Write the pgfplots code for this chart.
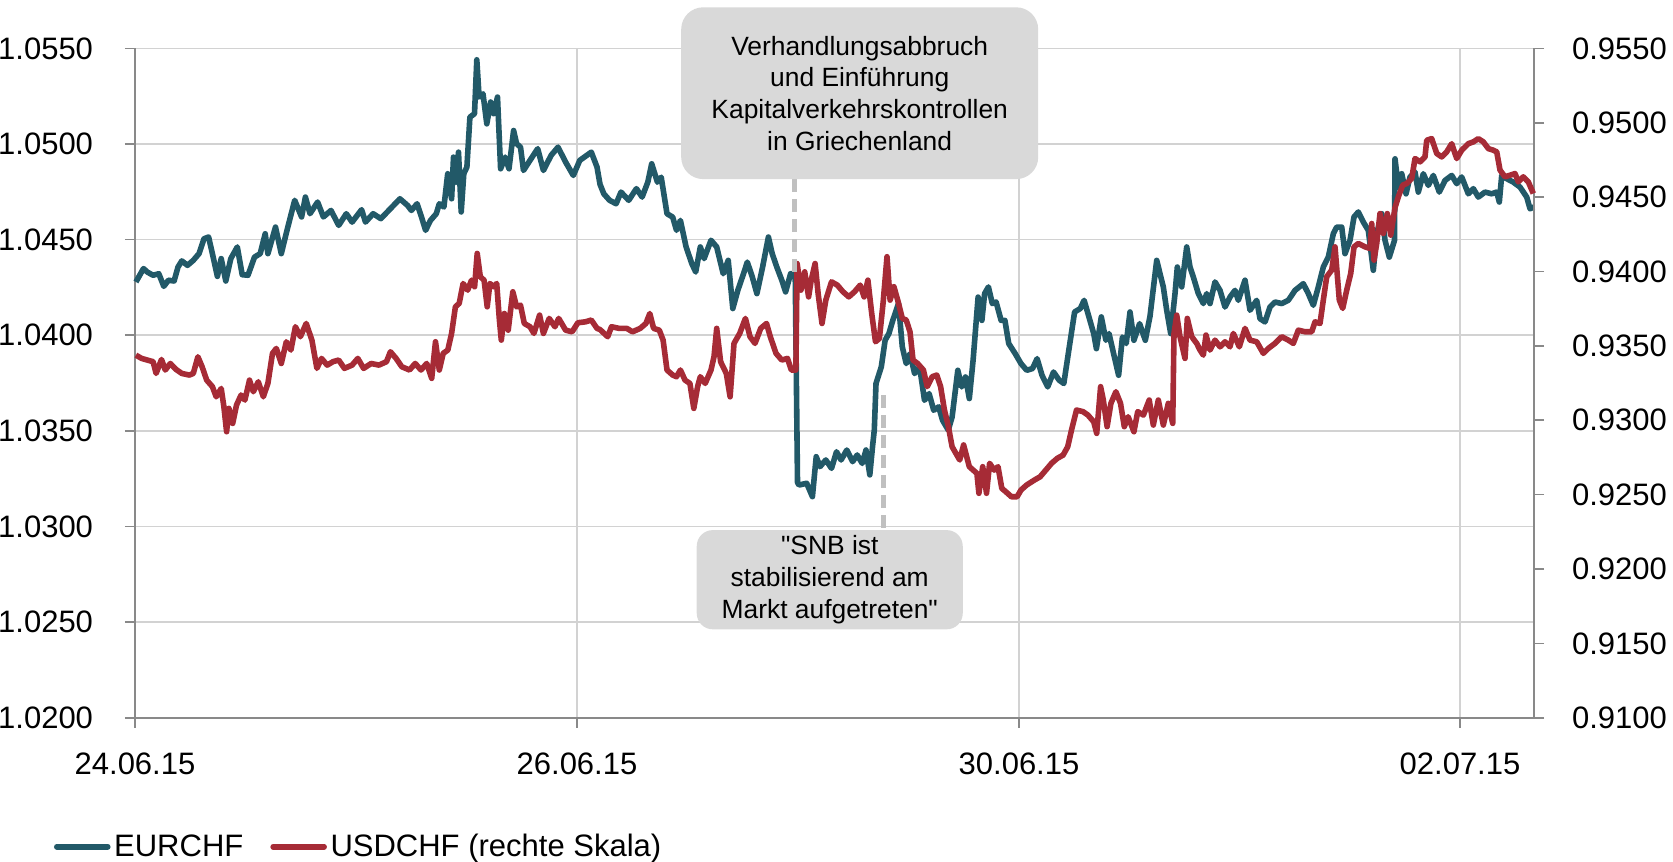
\documentclass[border=0pt]{standalone}
\usepackage{fontspec}
\setmainfont{Liberation Sans}[Ligatures=TeXOff]
\usepackage{pgfplots}
\usepackage{pgfplotstable}
\pgfplotsset{compat=1.18}
\definecolor{eur}{RGB}{34,89,104}
\definecolor{usd}{RGB}{166,43,54}
\definecolor{gridc}{RGB}{210,210,210}
\definecolor{axc}{RGB}{137,137,137}
\definecolor{boxc}{RGB}{217,217,217}
\definecolor{dashc}{RGB}{192,192,192}

\pgfplotstableread{
x y
135.9 1.04279
143.5 1.04349
147.3 1.04331
153.0 1.04314
158.8 1.04322
163.8 1.04256
168.4 1.04288
174.1 1.04284
178.0 1.04357
181.8 1.04389
187.5 1.04366
193.3 1.04392
199.0 1.04427
204.0 1.04505
208.6 1.04514
212.4 1.04427
217.4 1.04308
221.2 1.04401
225.8 1.04284
230.8 1.04401
237.3 1.04462
242.2 1.04317
248.0 1.04314
254.5 1.04409
260.2 1.04427
265.2 1.04531
267.9 1.04427
275.5 1.04566
281.3 1.04427
287.0 1.04549
294.7 1.04706
301.6 1.04619
305.4 1.04723
310.0 1.04636
317.6 1.04697
323.4 1.04619
331.0 1.04653
338.7 1.04575
346.3 1.04636
352.1 1.04592
361.6 1.04657
365.5 1.04592
373.1 1.04636
380.8 1.04610
390.4 1.04662
399.9 1.04714
407.6 1.04679
411.4 1.04653
417.1 1.04688
421.0 1.04627
425.6 1.04549
430.5 1.04601
436.3 1.04636
439.3 1.04688
443.9 1.04671
447.7 1.04845
451.6 1.04714
453.5 1.04932
456.2 1.04801
458.5 1.04958
461.2 1.04645
463.8 1.04845
466.9 1.04880
469.9 1.05141
474.5 1.05159
476.8 1.05441
479.1 1.05246
483.0 1.05263
486.8 1.05106
490.6 1.05220
493.7 1.05159
497.5 1.05246
500.6 1.04871
505.2 1.04932
509.0 1.04871
513.6 1.05071
516.6 1.05002
520.5 1.04984
523.5 1.04862
530.0 1.04915
537.7 1.04976
543.4 1.04862
551.1 1.04941
558.0 1.04984
565.6 1.04906
573.3 1.04836
579.8 1.04915
591.3 1.04958
597.0 1.04880
600.0 1.04790
603.8 1.04740
609.6 1.04706
616.1 1.04688
621.0 1.04749
628.7 1.04706
636.4 1.04767
642.1 1.04723
647.8 1.04801
651.7 1.04897
657.4 1.04801
661.2 1.04827
667.0 1.04636
672.7 1.04618
676.5 1.04549
680.4 1.04601
686.1 1.04462
691.8 1.04375
695.7 1.04331
700.3 1.04462
704.1 1.04401
711.0 1.04497
716.7 1.04462
723.2 1.04322
728.2 1.04392
732.8 1.04140
737.8 1.04235
743.5 1.04322
747.3 1.04383
752.3 1.04305
756.9 1.04218
762.6 1.04357
768.4 1.04514
772.2 1.04427
776.8 1.04357
781.8 1.04288
785.6 1.04227
790.6 1.04322
795.2 1.04322
797.5 1.03230
799.0 1.03217
806.7 1.03226
812.4 1.03156
816.2 1.03365
820.0 1.03313
825.8 1.03348
831.5 1.03304
836.5 1.03391
841.1 1.03348
846.8 1.03400
852.6 1.03339
857.2 1.03374
862.2 1.03330
866.0 1.03400
869.8 1.03270
872.5 1.03417
874.3 1.03505
876.0 1.03748
881.3 1.03835
885.1 1.03974
888.9 1.04009
892.8 1.04078
898.5 1.04166
902.3 1.03939
906.2 1.03852
910.0 1.03904
914.6 1.03800
919.6 1.03835
924.5 1.03660
929.1 1.03695
933.7 1.03608
938.7 1.03626
942.5 1.03556
948.3 1.03504
952.1 1.03573
957.8 1.03817
961.7 1.03730
965.5 1.03782
969.3 1.03669
973.1 1.03870
978.1 1.04200
981.9 1.04078
984.6 1.04218
988.4 1.04253
992.3 1.04166
996.1 1.04174
1001.1 1.04078
1004.9 1.04078
1008.7 1.03957
1015.2 1.03904
1021.0 1.03852
1026.7 1.03817
1032.5 1.03826
1037.1 1.03878
1042.0 1.03791
1047.7 1.03730
1053.5 1.03808
1059.2 1.03765
1063.8 1.03748
1068.8 1.03922
1074.6 1.04122
1080.3 1.04140
1084.1 1.04183
1088.0 1.04113
1093.7 1.04009
1096.4 1.03930
1101.3 1.04096
1105.9 1.03974
1109.0 1.04009
1113.6 1.03904
1118.6 1.03791
1122.4 1.03991
1126.2 1.03957
1130.0 1.04122
1133.9 1.03974
1139.6 1.04061
1145.3 1.03974
1150.0 1.04100
1156.7 1.04392
1163.3 1.04253
1166.7 1.04131
1170.7 1.04009
1175.0 1.04218
1177.3 1.04357
1181.7 1.04253
1186.7 1.04462
1190.0 1.04357
1193.3 1.04305
1198.3 1.04218
1203.3 1.04166
1206.7 1.04218
1210.0 1.04166
1215.0 1.04279
1220.0 1.04235
1225.0 1.04148
1230.0 1.04200
1235.0 1.04235
1238.3 1.04183
1245.0 1.04288
1250.0 1.04131
1256.7 1.04183
1260.0 1.04087
1265.0 1.04070
1270.0 1.04148
1275.0 1.04174
1281.7 1.04166
1288.3 1.04183
1295.0 1.04235
1303.3 1.04270
1308.3 1.04218
1313.3 1.04157
1318.3 1.04253
1323.3 1.04357
1328.3 1.04409
1333.3 1.04531
1336.7 1.04566
1341.7 1.04566
1345.0 1.04427
1350.0 1.04497
1354.0 1.04619
1358.3 1.04645
1363.3 1.04592
1368.3 1.04549
1373.3 1.04340
1376.7 1.04531
1381.7 1.04636
1385.0 1.04497
1389.3 1.04409
1394.5 1.04497
1395.0 1.04923
1398.3 1.04775
1401.7 1.04845
1406.0 1.04740
1410.0 1.04828
1415.0 1.04854
1418.3 1.04749
1423.3 1.04845
1428.3 1.04784
1433.3 1.04836
1439.3 1.04749
1445.0 1.04810
1451.7 1.04836
1456.7 1.04793
1461.7 1.04828
1468.3 1.04740
1473.3 1.04767
1478.3 1.04723
1485.0 1.04749
1491.7 1.04740
1496.7 1.04749
1499.3 1.04697
1501.7 1.04836
1506.7 1.04819
1513.3 1.04801
1520.0 1.04775
1526.7 1.04723
1530.0 1.04662
1534.0 1.04671
}\eurdata

\pgfplotstableread{
x y
135.9 0.93438
141.6 0.93416
147.3 0.93405
153.1 0.93394
156.1 0.93315
161.5 0.93409
165.3 0.93338
170.3 0.93382
176.0 0.93342
181.8 0.93315
189.4 0.93304
193.3 0.93315
197.9 0.93427
202.1 0.93360
206.7 0.93270
212.4 0.93226
216.2 0.93158
221.2 0.93214
223.9 0.93091
226.6 0.92923
228.9 0.93080
232.7 0.92979
236.5 0.93102
241.1 0.93170
244.9 0.93136
249.5 0.93270
253.3 0.93192
258.3 0.93259
263.3 0.93158
267.9 0.93248
272.5 0.93450
276.3 0.93483
281.3 0.93382
286.3 0.93528
290.9 0.93472
295.4 0.93629
300.4 0.93562
306.2 0.93651
311.9 0.93539
316.9 0.93349
321.5 0.93416
327.2 0.93371
333.0 0.93394
338.7 0.93405
344.4 0.93349
352.1 0.93371
357.8 0.93416
363.6 0.93349
371.2 0.93382
378.9 0.93371
386.5 0.93394
390.4 0.93461
396.1 0.93416
401.8 0.93360
409.5 0.93338
415.2 0.93382
421.0 0.93338
426.7 0.93382
431.7 0.93282
435.5 0.93528
439.3 0.93338
443.2 0.93450
447.8 0.93472
451.6 0.93584
455.4 0.93763
459.2 0.93786
463.1 0.93920
467.7 0.93875
471.5 0.93942
474.6 0.93898
477.2 0.94122
480.3 0.93965
484.1 0.93942
487.2 0.93763
489.9 0.93920
493.7 0.93898
496.7 0.93920
499.4 0.93674
501.3 0.93539
504.4 0.93718
508.2 0.93606
512.8 0.93864
516.6 0.93763
520.5 0.93774
524.3 0.93651
530.0 0.93629
533.9 0.93584
539.6 0.93707
543.4 0.93584
549.2 0.93685
554.9 0.93629
558.7 0.93685
565.6 0.93606
572.1 0.93595
577.9 0.93656
585.5 0.93662
591.3 0.93674
597.0 0.93618
600.0 0.93610
607.7 0.93562
611.5 0.93629
619.1 0.93618
626.8 0.93618
632.5 0.93595
640.2 0.93618
645.9 0.93651
649.8 0.93718
653.6 0.93618
659.3 0.93606
663.1 0.93539
667.0 0.93338
672.7 0.93304
676.5 0.93293
680.4 0.93338
685.0 0.93270
689.9 0.93248
693.8 0.93080
697.6 0.93226
700.3 0.93293
705.2 0.93248
711.0 0.93338
714.0 0.93427
716.7 0.93618
720.6 0.93394
726.3 0.93315
730.1 0.93158
734.0 0.93517
739.7 0.93584
745.4 0.93685
750.0 0.93562
755.0 0.93517
760.7 0.93618
766.5 0.93651
770.3 0.93562
776.0 0.93450
781.8 0.93405
787.5 0.93416
791.3 0.93338
795.9 0.93338
797.1 0.94054
800.9 0.93875
804.7 0.93998
808.6 0.93830
811.2 0.93942
815.1 0.94054
818.1 0.93853
822.0 0.93651
825.8 0.93808
831.5 0.93931
837.3 0.93909
843.0 0.93864
848.8 0.93830
854.5 0.93864
860.2 0.93909
864.1 0.93830
867.9 0.93942
871.7 0.93718
875.5 0.93528
879.4 0.93550
883.2 0.93797
887.0 0.94100
890.1 0.93808
893.9 0.93898
897.7 0.93808
902.3 0.93685
906.2 0.93674
910.0 0.93595
913.0 0.93405
917.6 0.93382
923.4 0.93338
927.2 0.93226
932.2 0.93293
936.8 0.93304
940.6 0.93226
944.4 0.93070
948.3 0.92960
952.1 0.92822
959.7 0.92733
963.6 0.92834
969.3 0.92688
976.9 0.92643
978.9 0.92509
982.7 0.92688
986.5 0.92509
989.6 0.92711
994.2 0.92665
998.0 0.92688
1001.8 0.92542
1005.7 0.92520
1011.4 0.92486
1017.1 0.92486
1021.0 0.92531
1026.7 0.92565
1034.4 0.92598
1040.1 0.92620
1045.8 0.92665
1051.6 0.92711
1057.3 0.92744
1063.1 0.92766
1067.7 0.92822
1071.5 0.92934
1076.5 0.93069
1083.0 0.93058
1087.9 0.93035
1093.7 0.92990
1096.7 0.92912
1100.6 0.93226
1103.3 0.93136
1107.1 0.92957
1110.9 0.93114
1115.9 0.93192
1120.5 0.93114
1124.3 0.92957
1128.1 0.93024
1133.9 0.92923
1137.7 0.93058
1143.4 0.93035
1149.2 0.93136
1153.3 0.92968
1158.3 0.93136
1163.3 0.92968
1168.3 0.93114
1172.7 0.92979
1174.0 0.93584
1176.7 0.93707
1180.0 0.93562
1185.0 0.93416
1187.3 0.93685
1191.7 0.93562
1196.7 0.93517
1200.0 0.93472
1203.3 0.93438
1206.0 0.93573
1210.0 0.93472
1215.0 0.93539
1220.0 0.93494
1225.0 0.93528
1230.0 0.93494
1233.3 0.93584
1239.3 0.93494
1245.0 0.93618
1250.0 0.93539
1256.7 0.93528
1263.3 0.93450
1268.3 0.93483
1275.0 0.93517
1281.7 0.93562
1288.3 0.93539
1293.3 0.93517
1298.3 0.93606
1305.0 0.93595
1311.7 0.93595
1315.0 0.93662
1320.0 0.93651
1323.3 0.93808
1326.7 0.93965
1331.7 0.94010
1335.0 0.94166
1339.3 0.93808
1342.7 0.93752
1346.7 0.93875
1350.7 0.93987
1354.0 0.94166
1358.3 0.94189
1365.0 0.94166
1370.0 0.94155
1371.7 0.94323
1374.0 0.94077
1376.7 0.94189
1380.0 0.94390
1383.3 0.94256
1387.3 0.94390
1390.7 0.94245
1395.0 0.94430
1398.3 0.94502
1402.7 0.94581
1406.7 0.94592
1411.7 0.94626
1415.0 0.94760
1420.0 0.94738
1425.0 0.94771
1426.7 0.94883
1431.7 0.94894
1436.7 0.94794
1441.7 0.94771
1446.7 0.94805
1451.7 0.94860
1456.7 0.94760
1461.7 0.94816
1468.3 0.94860
1473.3 0.94872
1478.3 0.94894
1483.3 0.94872
1488.3 0.94827
1493.3 0.94816
1496.7 0.94805
1500.0 0.94682
1505.0 0.94637
1510.0 0.94648
1515.0 0.94659
1518.3 0.94603
1523.3 0.94637
1528.3 0.94603
1533.3 0.94525
}\usddata

\pgfplotsset{
  common/.style={
    scale only axis, width=699.5pt, height=334.6pt,
    xmin=135, xmax=1534, clip=false,
    axis line style={axc, line width=0.8pt, -},
    tick style={axc, line width=0.8pt},
    major tick length=5pt, tick align=outside,
    ticklabel style={font=\fontsize{15.5}{18}\selectfont, inner sep=0pt},
    xtick={135,577,1019,1460},
    xticklabels={24.06.15,26.06.15,30.06.15,02.07.15},
  }
}

\begin{document}
\begin{tikzpicture}
\useasboundingbox (-67.5pt,-71.65pt) rectangle (769pt,358.85pt);
\begin{axis}[common,
  axis y line*=left, axis x line*=bottom,
  ymin=1.02, ymax=1.055,
  ytick={1.020,1.025,1.030,1.035,1.040,1.045,1.050,1.055},
  yticklabels={1.0200,1.0250,1.0300,1.0350,1.0400,1.0450,1.0500,1.0550},
  ymajorgrids, xmajorgrids,
  grid style={gridc, line width=0.8pt},
  yticklabel style={anchor=east, xshift=-15.8pt},
  xticklabel style={anchor=north, yshift=-12.6pt},
]
\addplot[eur, line width=2.8pt, line join=round] table[x=x,y=y] {\eurdata};
\end{axis}
\begin{axis}[common,
  axis y line*=right, axis x line=none,
  ymin=0.91, ymax=0.955,
  ytick={0.910,0.915,0.920,0.925,0.930,0.935,0.940,0.945,0.950,0.955},
  yticklabels={0.9100,0.9150,0.9200,0.9250,0.9300,0.9350,0.9400,0.9450,0.9500,0.9550},
  yticklabel style={anchor=west, xshift=13.8pt},
  legend columns=-1,
  legend style={at={(rel axis cs:-0.0582,-0.1928)}, anchor=west, draw=none, fill=none,
    inner sep=0pt, font=\fontsize{15.5}{18}\selectfont,
    /tikz/every odd column/.append style={column sep=1.8pt},
    /tikz/every even column/.append style={column sep=13.5pt},
    nodes={inner sep=0pt}},
  legend image code/.code={\draw[#1, line cap=round] (0pt,0pt) -- (25.5pt,0pt);},
]
\addlegendimage{eur, line width=2.8pt}
\addlegendentry{EURCHF}
\addplot[usd, line width=2.8pt, line join=round] table[x=x,y=y] {\usddata};
\addlegendentry{USDCHF (rechte Skala)}
\draw[dashc, line width=2.3pt, dash pattern=on 6.5pt off 3.5pt] (rel axis cs:0.4713,0.8050) -- (rel axis cs:0.4713,0.6589);
\draw[dashc, line width=2.3pt, dash pattern=on 6.5pt off 3.5pt] (rel axis cs:0.5348,0.4822) -- (rel axis cs:0.5348,0.2805);
\node[fill=boxc, rounded corners=11pt, minimum width=178.5pt, minimum height=85.9pt, align=center, inner sep=0pt,
  font=\fontsize{13.2}{15.8}\selectfont] at (rel axis cs:0.5180,0.9332)
  {Verhandlungsabbruch\\und Einführung\\Kapitalverkehrskontrollen\\in Griechenland};
\node[fill=boxc, rounded corners=8pt, minimum width=133pt, minimum height=49.6pt, align=center, inner sep=0pt,
  font=\fontsize{13.2}{15.8}\selectfont] at (rel axis cs:0.4966,0.2062)
  {"SNB ist\\stabilisierend am\\Markt aufgetreten"};
\end{axis}
\end{tikzpicture}
\end{document}
